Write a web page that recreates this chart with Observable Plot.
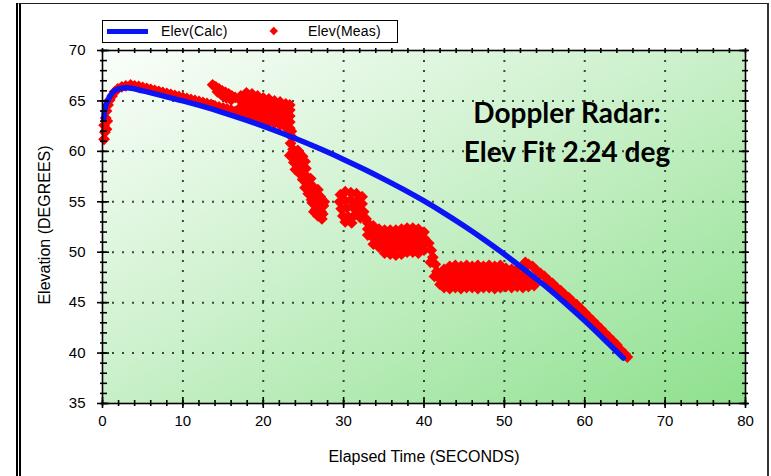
<!DOCTYPE html>
<html><head><meta charset="utf-8">
<script src="https://cdn.jsdelivr.net/npm/d3@7"></script>
<script src="https://cdn.jsdelivr.net/npm/@observablehq/plot@0.6"></script>
<style>
html,body{margin:0;padding:0;background:#fff;}
#wrap{position:relative;width:771px;height:476px;overflow:hidden;font-family:"Liberation Sans",Arial,sans-serif;color:#000;}
#wrap svg{position:absolute;left:0;top:0;}
.outer{position:absolute;left:16px;top:3px;width:753px;height:500px;border-left:5px double #000;border-top:1.5px solid #222;border-right:2px solid #333;box-sizing:border-box;}
.legend{position:absolute;left:102px;top:20px;width:296px;height:23px;border:1.5px solid #000;box-sizing:border-box;background:#fff;font-size:14px;}
.legend .sw-line{position:absolute;left:4px;top:8px;width:41px;height:4.5px;background:#0a14f5;}
.legend .sw-dot{position:absolute;left:168px;top:7px;width:5.5px;height:5.5px;background:#ff0000;transform:rotate(45deg);}
.legend .lab{position:absolute;top:1px;line-height:18px;white-space:nowrap;letter-spacing:0.2px;}
.ann{position:absolute;left:437px;top:93px;width:260px;text-align:center;font-family:Lato,"Open Sans",sans-serif;font-weight:bold;font-size:28px;line-height:39px;color:#000;}
.xt{position:absolute;left:224px;top:447px;width:400px;text-align:center;font-size:16px;line-height:20px;}
.yt{position:absolute;left:-105px;top:215px;width:300px;text-align:center;font-size:16px;line-height:20px;transform:rotate(-90deg);}
</style></head>
<body>
<div id="wrap">
  <div class="outer"></div>
</div>
<script>
// ---- Data ----
const xTicks = [0, 10, 20, 30, 40, 50, 60, 70, 80];
const xMinorTicks = [0,2,4,6,8,10,12,14,16,18,20,22,24,26,28,30,32,34,36,38,40,42,44,46,48,50,52,54,56,58,60,62,64,66,68,70,72,74,76,78,80];
const xGrid = [10, 20, 30, 40, 50, 60, 70];
const yTicks = [35, 40, 45, 50, 55, 60, 65, 70];
const yMinorTicks = [35,36,37,38,39,40,41,42,43,44,45,46,47,48,49,50,51,52,53,54,55,56,57,58,59,60,61,62,63,64,65,66,67,68,69,70];
const yGrid = [40, 45, 50, 55, 60, 65];

// Elev(Calc) curve
const calcTime = [0.15, 0.3, 0.7, 1.2, 2, 3, 5, 7.5, 10, 12.5, 15, 17.5, 20, 22.5, 25, 27.5, 30, 32.5, 35, 37.5, 40, 42.5, 45, 47.5, 50, 52.5, 55, 57.5, 60, 62.5, 64.8];
const calcElev = [63.2, 64.2, 65.1, 65.8, 66.2, 66.3, 66.0, 65.5, 65.0, 64.45, 63.85, 63.2, 62.5, 61.75, 60.95, 60.1, 59.2, 58.25, 57.25, 56.2, 55.08, 53.88, 52.6, 51.24, 49.8, 48.28, 46.7, 45.0, 43.2, 41.3, 39.5];

// Elev(Meas) points [time, elevation]
const measured = [
  // launch rise
  [0.2,61.2],[0.3,61.9],[0.2,62.6],[0.4,63.3],[0.5,64.0],[0.7,64.6],[0.9,65.1],[1.2,65.5],[1.5,65.9],[1.9,66.2],[2.4,66.4],[2.9,66.5],[0.5,62.2],[0.6,63.0],
  // tracking along the fit
  [3.5,66.6],[4.0,66.5],[4.5,66.45],[5.0,66.35],[5.5,66.25],[6.0,66.15],[6.5,66.05],[7.0,65.95],[7.5,65.85],[8.0,65.75],[8.5,65.65],[9.0,65.55],[9.5,65.45],[10.0,65.35],
  [10.5,65.25],[11.0,65.15],[11.5,65.05],[12.0,64.95],[12.5,64.85],[13.0,64.75],[13.5,64.65],[14.0,64.5],[14.5,64.4],[15.0,64.3],[15.5,64.2],[16.0,64.1],[16.5,63.95],[17.0,63.85],
  // upper arm
  [13.7,66.6],[14.1,66.4],[14.5,66.2],[14.9,66.0],[15.3,65.85],[15.7,65.7],[16.1,65.5],[16.5,65.35],[14.3,65.9],[14.8,65.6],[15.4,65.3],[16.0,65.1],
  // cloud 17-23 s
  [17.2,63.8],[17.2,64.4],[17.2,65.0],[17.2,65.5],
  [17.9,63.6],[17.9,64.2],[17.9,64.8],[17.9,65.4],[17.9,65.8],
  [18.6,63.5],[18.6,64.1],[18.6,64.7],[18.6,65.3],[18.6,65.7],
  [19.3,63.3],[19.3,63.9],[19.3,64.5],[19.3,65.1],[19.3,65.5],
  [20.0,63.1],[20.0,63.7],[20.0,64.3],[20.0,64.9],[20.0,65.3],
  [20.7,62.9],[20.7,63.5],[20.7,64.1],[20.7,64.7],[20.7,65.2],
  [21.4,62.8],[21.4,63.4],[21.4,64.0],[21.4,64.6],[21.4,65.0],
  [22.1,62.6],[22.1,63.2],[22.1,63.8],[22.1,64.4],[22.1,64.9],
  [22.8,62.4],[22.8,63.0],[22.8,63.6],[22.8,64.2],[22.8,64.7],
  [23.3,62.3],[23.3,62.9],[23.3,63.5],[23.3,64.1],[23.3,64.6],
  // drop 23-28 s
  [23.5,62.0],[23.6,61.4],[23.4,60.8],[23.7,60.2],[23.3,59.6],[24.0,59.4],[24.4,59.9],[24.2,58.8],[24.7,58.4],[24.4,57.9],[25.0,57.7],[25.3,58.3],[24.9,57.2],[25.5,56.9],
  [25.2,56.4],[25.9,56.3],[25.6,55.8],[26.2,55.6],[26.6,55.2],[26.1,54.9],[26.9,54.6],[26.5,54.2],[27.2,54.0],[26.8,53.6],[27.3,53.3],[27.5,54.6],[27.1,55.5],[25.9,57.3],
  [23.7,59.9],[24.3,60.1],[24.9,59.5],[23.8,58.9],[24.5,59.0],[25.2,59.0],[24.0,58.2],[24.6,57.8],[25.3,57.6],[25.6,56.8],[26.2,56.5],[26.8,56.2],
  [25.9,55.9],[26.6,55.7],[27.2,55.3],[26.0,55.2],[26.6,54.7],[27.4,53.8],[27.0,53.9],[26.3,54.0],[27.6,55.0],
  // blob 29-33 s
  [29.6,55.7],[30.2,56.0],[30.9,55.9],[31.6,55.8],[32.3,55.5],[29.5,55.0],[30.2,55.1],[30.9,55.2],[31.6,55.0],[32.3,54.8],[29.7,54.3],[30.4,54.4],[31.1,54.5],
  [31.8,54.2],[32.5,54.0],[29.9,53.6],[30.6,53.5],[31.4,53.7],[32.1,53.4],[32.8,53.3],[30.2,53.0],[31.0,52.9],
  // step 33-40 s
  [33.0,52.9],[33.0,52.3],[33.0,51.7],
  [33.7,52.6],[33.7,52.0],[33.7,51.4],[33.7,50.8],
  [34.4,52.3],[34.4,51.7],[34.4,51.1],[34.4,50.5],
  [35.1,52.2],[35.1,51.6],[35.1,51.0],[35.1,50.4],[35.1,49.9],
  [35.8,52.2],[35.8,51.6],[35.8,51.0],[35.8,50.4],[35.8,49.8],
  [36.5,52.2],[36.5,51.6],[36.5,51.0],[36.5,50.4],[36.5,49.7],
  [37.2,52.3],[37.2,51.7],[37.2,51.1],[37.2,50.5],[37.2,49.8],
  [37.9,52.4],[37.9,51.8],[37.9,51.2],[37.9,50.6],[37.9,50.0],
  [38.6,52.4],[38.6,51.8],[38.6,51.2],[38.6,50.6],[38.6,50.0],
  [39.3,52.3],[39.3,51.7],[39.3,51.1],[39.3,50.5],[39.3,49.9],
  [40.0,52.0],[40.0,51.4],[40.0,50.8],[40.0,50.2],
  // step down 40-42 s
  [40.6,50.9],[40.9,50.2],[41.1,49.5],[40.8,49.0],[41.4,48.8],[41.6,48.1],[41.3,47.6],[41.9,47.4],[42.0,46.8],
  // flat band 42-54 s
  [42.5,46.5],[42.5,47.1],[42.5,47.7],[42.5,48.3],
  [43.2,46.4],[43.2,47.0],[43.2,47.6],[43.2,48.2],[43.2,48.6],
  [43.9,46.5],[43.9,47.1],[43.9,47.7],[43.9,48.3],[43.9,48.7],
  [44.6,46.4],[44.6,47.0],[44.6,47.6],[44.6,48.2],[44.6,48.6],
  [45.3,46.5],[45.3,47.1],[45.3,47.7],[45.3,48.3],[45.3,48.7],
  [46.0,46.5],[46.0,47.1],[46.0,47.7],[46.0,48.3],[46.0,48.6],
  [46.7,46.4],[46.7,47.0],[46.7,47.6],[46.7,48.2],[46.7,48.7],
  [47.4,46.5],[47.4,47.1],[47.4,47.7],[47.4,48.3],[47.4,48.6],
  [48.1,46.5],[48.1,47.1],[48.1,47.7],[48.1,48.3],[48.1,48.7],
  [48.8,46.4],[48.8,47.0],[48.8,47.6],[48.8,48.2],[48.8,48.6],
  [49.5,46.5],[49.5,47.1],[49.5,47.7],[49.5,48.3],[49.5,48.7],
  [50.2,46.6],[50.2,47.2],[50.2,47.8],[50.2,48.4],
  [50.9,46.5],[50.9,47.1],[50.9,47.7],[50.9,48.3],
  [51.6,46.6],[51.6,47.2],[51.6,47.8],[51.6,48.3],
  [52.3,46.5],[52.3,47.1],[52.3,47.7],
  [53.0,46.6],[53.0,47.2],
  [53.7,46.7],
  // final descent along the fit
  [52.6,49.0],[53.0,48.8],[53.5,48.6],[54.0,48.2],[54.5,47.9],[55.0,47.6],[55.5,47.2],[56.0,46.9],[56.5,46.5],[57.0,46.2],[57.5,45.8],[58.0,45.5],[58.5,45.1],[59.0,44.8],
  [59.5,44.4],[60.0,44.0],[60.5,43.6],[61.0,43.2],[61.5,42.8],[62.0,42.4],[62.5,42.0],[63.0,41.6],[63.5,41.2],[64.0,40.8],[64.5,40.3],[65.0,39.9],[65.3,39.6]
];

const legendLabels = ["Elev(Calc)", "Elev(Meas)"];
const axisTitleX = "Elapsed Time (SECONDS)";
const axisTitleY = "Elevation (DEGREES)";
const annotationLines = ["Doppler Radar:", "Elev Fit 2.24 deg"];

// ---- Chart ----
const calc = calcTime.map((t, i) => ({t, e: calcElev[i]}));
const noLabel = () => "";
const tickStroke = {stroke: "#000", strokeWidth: 1.6};

const svg = Plot.plot({
  width: 771, height: 476,
  marginLeft: 102, marginRight: 26, marginTop: 50, marginBottom: 73,
  style: {fontFamily: '"Liberation Sans", Arial, sans-serif', fontSize: "15px", color: "#000", background: "transparent", overflow: "visible"},
  x: {domain: [0, 80]},
  y: {domain: [35, 70]},
  marks: [
    Plot.frame({fill: "url(#bgGrad)"}),
    Plot.gridX({ticks: xGrid, stroke: "#1c2c1c", strokeOpacity: 0.85, strokeWidth: 2, strokeDasharray: "2,8"}),
    Plot.gridY({ticks: yGrid, stroke: "#1c2c1c", strokeOpacity: 0.85, strokeWidth: 2, strokeDasharray: "2,8"}),
    Plot.dot(measured, {x: d => d[0], y: d => d[1], symbol: "diamond2", r: 5.3, fill: "#ff0000", stroke: "none"}),
    Plot.line(calc, {x: "t", y: "e", stroke: "#0a14f5", strokeWidth: 5.5, curve: "monotone-x"}),
    Plot.frame({stroke: "#000", strokeWidth: 1.6}),
    // bottom ticks (crossing the axis)
    Plot.axisX({anchor: "bottom", ticks: xTicks, tickSize: 11, dy: -6, tickFormat: noLabel, label: null, ...tickStroke}),
    Plot.axisX({anchor: "bottom", ticks: xMinorTicks, tickSize: 6, dy: -3, tickFormat: noLabel, label: null, ...tickStroke}),
    Plot.axisX({anchor: "bottom", ticks: xTicks, tickSize: 0, tickPadding: 12, label: null, fontSize: 15}),
    // top ticks
    Plot.axisX({anchor: "top", ticks: xMinorTicks, tickSize: 5, dy: 2, tickFormat: noLabel, label: null, ...tickStroke}),
    // left ticks
    Plot.axisY({anchor: "left", ticks: yTicks, tickSize: 12, dx: 7, tickFormat: noLabel, label: null, ...tickStroke}),
    Plot.axisY({anchor: "left", ticks: yMinorTicks, tickSize: 7, dx: 5, tickFormat: noLabel, label: null, ...tickStroke}),
    Plot.axisY({anchor: "left", ticks: yTicks, tickSize: 0, tickPadding: 17, label: null, fontSize: 15}),
    // right ticks
    Plot.axisY({anchor: "right", ticks: yTicks, tickSize: 10, dx: -7, tickFormat: noLabel, label: null, ...tickStroke}),
    Plot.axisY({anchor: "right", ticks: yMinorTicks, tickSize: 6, dx: -4, tickFormat: noLabel, label: null, ...tickStroke})
  ]
});

// background gradient
const defs = d3.select(svg).insert("defs", ":first-child");
const grad = defs.append("linearGradient").attr("id", "bgGrad")
  .attr("x1", 0).attr("y1", 0).attr("x2", 1).attr("y2", 1);
grad.append("stop").attr("offset", "0%").attr("stop-color", "#fbfefb");
grad.append("stop").attr("offset", "45%").attr("stop-color", "#cdf1cd");
grad.append("stop").attr("offset", "100%").attr("stop-color", "#8ee08e");

const wrap = document.getElementById("wrap");
wrap.insertBefore(svg, wrap.firstChild);

// legend
const legend = document.createElement("div");
legend.className = "legend";
legend.innerHTML = `<div class="sw-line"></div><div class="lab" style="left:58px">${legendLabels[0]}</div>
<div class="sw-dot"></div><div class="lab" style="left:205px">${legendLabels[1]}</div>`;
wrap.appendChild(legend);

// annotation
const ann = document.createElement("div");
ann.className = "ann";
ann.innerHTML = annotationLines.join("<br>");
wrap.appendChild(ann);

// axis titles
const xt = document.createElement("div"); xt.className = "xt"; xt.textContent = axisTitleX; wrap.appendChild(xt);
const yt = document.createElement("div"); yt.className = "yt"; yt.textContent = axisTitleY; wrap.appendChild(yt);
</script>
</body></html>
